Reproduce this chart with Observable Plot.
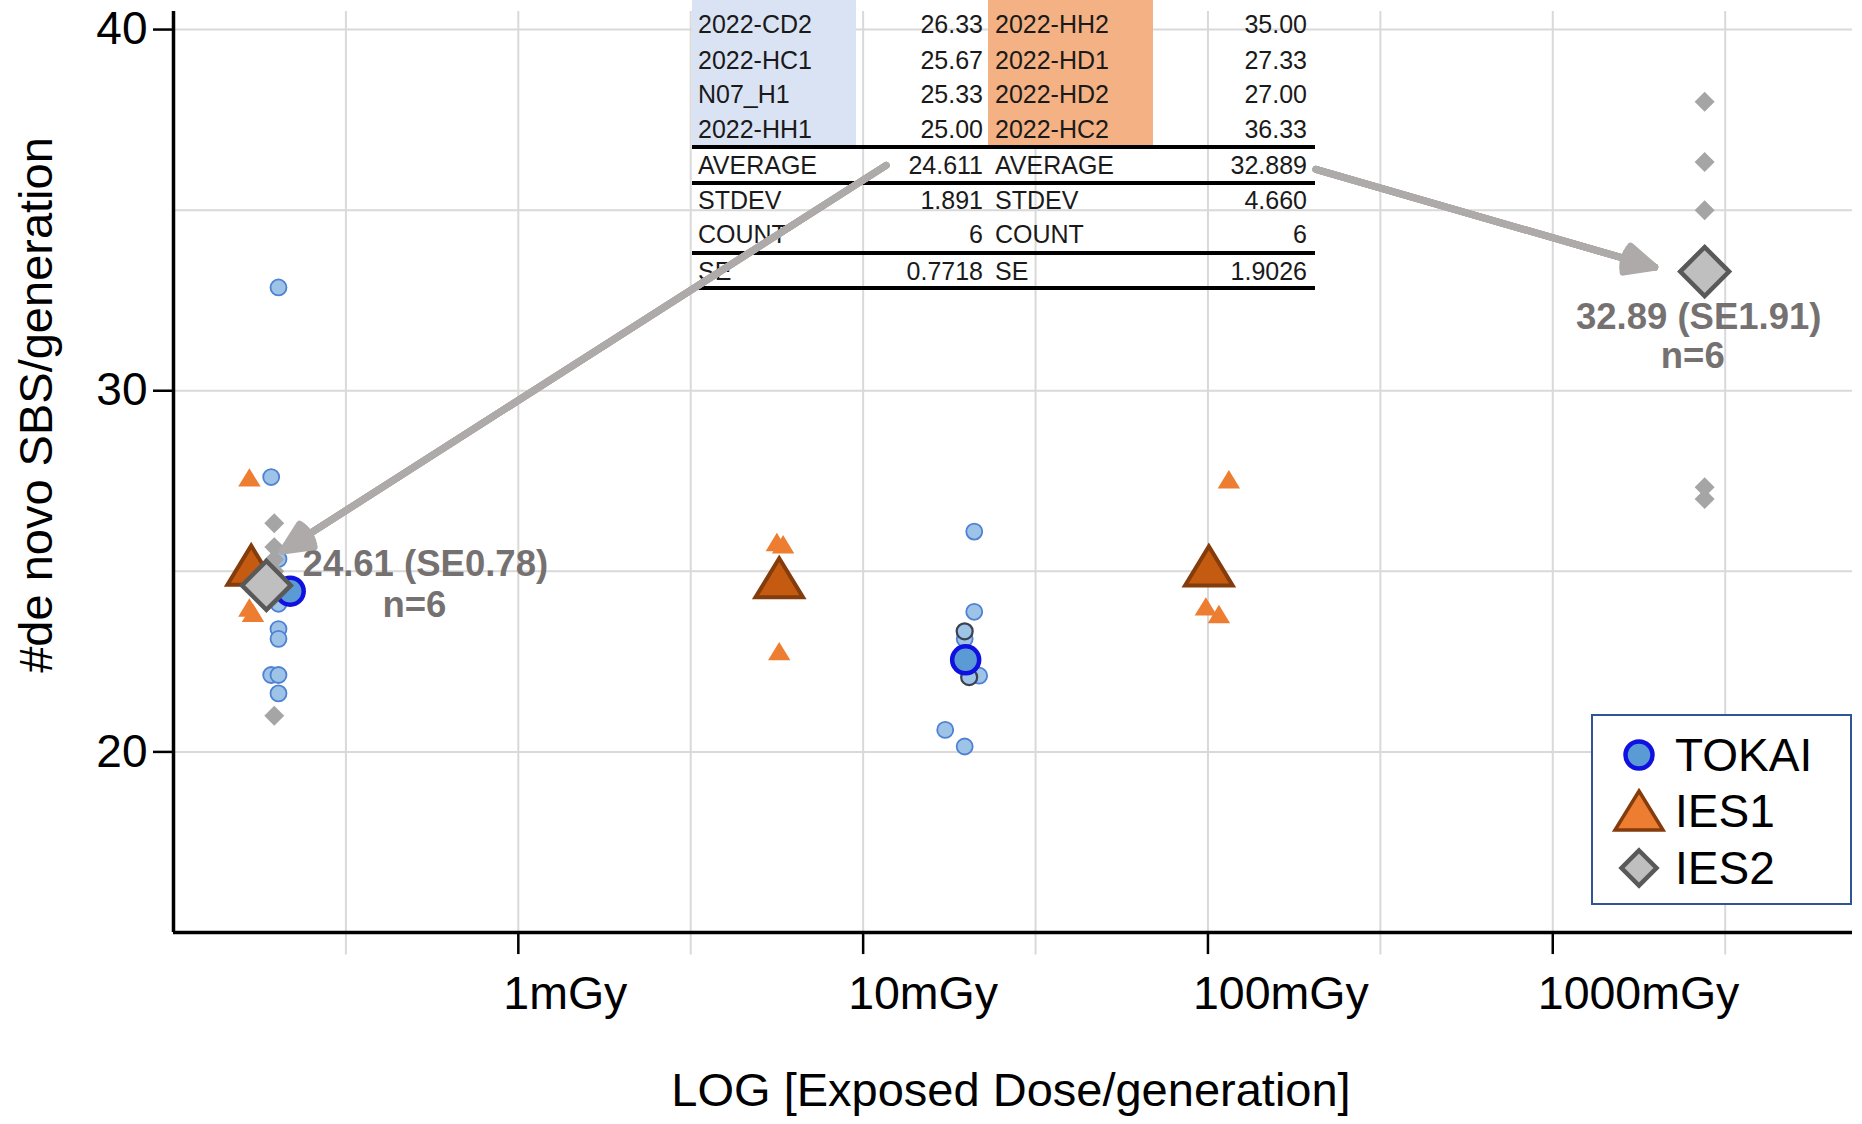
<!DOCTYPE html>
<html>
<head>
<meta charset="utf-8">
<title>#de novo SBS/generation vs exposed dose</title>
<script src="https://cdn.jsdelivr.net/npm/d3@7"></script>
<script src="https://cdn.jsdelivr.net/npm/@observablehq/plot@0.6"></script>
<style>
  html, body { margin: 0; padding: 0; background: #fff; overflow: hidden; }
  #wrap { position: relative; width: 1862px; height: 1124px; overflow: hidden;
          font-family: "Liberation Sans", Arial, Helvetica, sans-serif; }
  #wrap > svg { position: absolute; left: 0; top: 0; }
  #sheet { position: absolute; left: 0; top: 0; width: 1862px; height: 300px; }
  #sheet div { position: absolute; white-space: nowrap; color: #1a1a1a; font-size: 25px; }
  #legend { position: absolute; left: 1591px; top: 714px; width: 261px; height: 191px;
            box-sizing: border-box; border: 2px solid #2f5597; background: #fff; }
  #legend svg { position: absolute; left: 0; top: 0; }
</style>
</head>
<body>
<div id="wrap"></div>
<script>
// ---------------- data ----------------
// TOKAI individual lines
const tokaiDose  = [0.2016, 0.192, 0.2016, 0.2016, 0.2016, 0.2016, 0.192, 0.2016, 0.2016,
                    21.0, 21.0, 19.7, 21.7, 17.3, 19.7];
const tokaiValue = [32.86, 27.61, 25.34, 24.10, 23.40, 23.13, 22.13, 22.13, 21.62,
                    26.10, 23.88, 23.13, 22.11, 20.61, 20.15];
// TOKAI lines drawn with a dark outline
const tokaiOutlinedDose  = [19.7, 20.3];
const tokaiOutlinedValue = [23.34, 22.07];
// TOKAI group means
const tokaiMeanDose  = [0.218, 19.83];
const tokaiMeanValue = [24.45, 22.55];

// IES1 individual lines
const ies1Dose  = [0.166, 0.166, 0.170, 5.62, 5.86, 5.71, 115, 98.6, 107.6];
const ies1Value = [27.6, 24.0, 23.85, 25.81, 25.75, 22.79, 27.55, 24.03, 23.82];
// IES1 group means
const ies1MeanDose  = [0.168, 5.71, 100.6];
const ies1MeanValue = [25.17, 24.82, 25.15];

// IES2 individual lines
const ies2Dose  = [0.196, 0.196, 0.196, 0.196, 0.196, 0.196, 2757, 2757, 2757, 2757, 2757, 2757];
const ies2Value = [26.33, 25.67, 25.33, 25.00, 24.33, 21.00, 38.00, 36.33, 35.00, 33.67, 27.33, 27.00];
// IES2 group means
const ies2MeanDose  = [0.186, 2757];
const ies2MeanValue = [24.61, 33.3];

// mean annotations
const meanLabelText  = ["24.61 (SE0.78)", "32.89 (SE1.91)"];
const meanLabelDose  = [0.5375, 2650];
const meanLabelValue = [25.2, 32.04];
const nLabelText  = ["n=6", "n=6"];
const nLabelDose  = [0.4995, 2546];
const nLabelValue = [24.07, 30.94];

// arrows from the spreadsheet averages to the plotted means
const arrowFromDose  = [11.66, 205.6];
const arrowFromValue = [36.24, 36.13];
const arrowToDose    = [0.207, 1975];
const arrowToValue   = [25.56, 33.42];

// axes
const xTickValues = [1, 10, 100, 1000];
const xTickLabels = ["1mGy", "10mGy", "100mGy", "1000mGy"];
const yTickValues = [20, 30, 40];
const yGridValues = [20, 25, 30, 35, 40];
const xTitle = "LOG [Exposed Dose/generation]";
const yTitle = "#de novo SBS/generation";

// legend
const legendLabels = ["TOKAI", "IES1", "IES2"];

// spreadsheet excerpt
const sheetLeftNames   = ["2022-CD2", "2022-HC1", "N07_H1", "2022-HH1"];
const sheetLeftValues  = ["26.33", "25.67", "25.33", "25.00"];
const sheetRightNames  = ["2022-HH2", "2022-HD1", "2022-HD2", "2022-HC2"];
const sheetRightValues = ["35.00", "27.33", "27.00", "36.33"];
const statNames      = ["AVERAGE", "STDEV", "COUNT", "SE"];
const statLeftValues = ["24.611", "1.891", "6", "0.7718"];
const statRightValues = ["32.889", "4.660", "6", "1.9026"];

// ---------------- build tables for Plot ----------------
const pts = (dx, vy) => dx.map((dose, i) => ({dose, value: vy[i]}));
const tokai = pts(tokaiDose, tokaiValue);
const tokaiOutlined = pts(tokaiOutlinedDose, tokaiOutlinedValue);
const tokaiMean = pts(tokaiMeanDose, tokaiMeanValue);
const ies1 = pts(ies1Dose, ies1Value);
const ies1Mean = pts(ies1MeanDose, ies1MeanValue);
const ies2 = pts(ies2Dose, ies2Value);
const ies2Mean = pts(ies2MeanDose, ies2MeanValue);
const meanLabels = meanLabelText.map((t, i) => ({t, dose: meanLabelDose[i], value: meanLabelValue[i]}));
const nLabels = nLabelText.map((t, i) => ({t, dose: nLabelDose[i], value: nLabelValue[i]}));
const arrows = arrowFromDose.map((d, i) => ({
  x1: d, y1: arrowFromValue[i], x2: arrowToDose[i], y2: arrowToValue[i]
}));

// triangle centred on its bounding box (spreadsheet-style marker)
const boxTriangle = {
  draw(ctx, size) {
    const r = Math.sqrt(size / Math.PI);
    const w = 2.8 * r, h = 2.3 * r;
    ctx.moveTo(0, -h / 2);
    ctx.lineTo(w / 2, h / 2);
    ctx.lineTo(-w / 2, h / 2);
    ctx.closePath();
  }
};

const xDomain = [0.1, 7400];
const yDomain = [15, 40.5];
const xGridValues = d3.range(-1, 8).map(k => Math.pow(10, k / 2));
const frame = {
  width: 1862, height: 1124,
  marginLeft: 173, marginRight: 10, marginTop: 11, marginBottom: 192
};
const font = "'Liberation Sans', Arial, Helvetica, sans-serif";

const main = Plot.plot({
  ...frame,
  x: {type: "log", domain: xDomain},
  y: {domain: yDomain},
  style: {fontFamily: font, fontSize: "46px", color: "black", background: "white", overflow: "visible"},
  marks: [
    Plot.ruleY(yGridValues, {x1: xDomain[0], x2: xDomain[1], stroke: "#d9d9d9", strokeWidth: 2}),
    Plot.ruleX(xGridValues, {y1: 14.38, y2: yDomain[1], stroke: "#d9d9d9", strokeWidth: 2}),
    Plot.axisY({ticks: yTickValues, tickSize: 20, tickPadding: 6, fontSize: 46, label: null,
                strokeWidth: 2.5, tickFormat: d => String(d)}),
    Plot.axisX({ticks: xTickValues, tickSize: 22, tickFormat: () => "", label: null, strokeWidth: 2.5}),
    Plot.text(xTickValues, {x: d => d, text: (d, i) => xTickLabels[i], frameAnchor: "bottom",
                            textAnchor: "start", lineAnchor: "middle", dx: -15, dy: 62, fontSize: 46.5}),
    Plot.ruleX([xDomain[0]], {y1: yDomain[0], y2: yDomain[1], stroke: "black", strokeWidth: 3.5}),
    Plot.ruleY([yDomain[0]], {x1: xDomain[0], x2: xDomain[1], stroke: "black", strokeWidth: 3.5}),
    Plot.text([yTitle], {text: d => d, frameAnchor: "left", textAnchor: "middle", lineAnchor: "middle",
                         rotate: -90, dx: -137, dy: -67, fontSize: 47}),
    Plot.text([xTitle], {text: d => d, frameAnchor: "bottom", textAnchor: "middle", lineAnchor: "middle",
                         dx: -2, dy: 158, fontSize: 47}),

    // individual lines
    Plot.dot(tokai, {x: "dose", y: "value", r: 8, fill: "#9dc3e6", stroke: "#4f81d4", strokeWidth: 1.8}),
    Plot.dot(tokaiOutlined, {x: "dose", y: "value", r: 8, fill: "#9dc3e6", stroke: "#3a4150", strokeWidth: 2.2}),
    Plot.dot(ies1, {x: "dose", y: "value", r: 8, symbol: boxTriangle, fill: "#ed7d31"}),
    Plot.dot(ies2, {x: "dose", y: "value", r: 9, symbol: "diamond2", fill: "#a5a5a5"}),

    // group means
    Plot.dot(tokaiMean, {x: "dose", y: "value", r: 13.5, fill: "#5b9bd5", stroke: "#1010e0", strokeWidth: 4.5}),
    Plot.dot(ies1Mean, {x: "dose", y: "value", r: 17, symbol: boxTriangle, fill: "#c55a11",
                        stroke: "#843c0c", strokeWidth: 4}),
    Plot.dot(ies2Mean, {x: "dose", y: "value", r: 22, symbol: "diamond2", fill: "#bfbfbf",
                        stroke: "#595959", strokeWidth: 4.5}),

    // annotations
    Plot.text(meanLabels, {x: "dose", y: "value", text: "t", fontSize: 36.5, fontWeight: "bold", fill: "#767171"}),
    Plot.text(nLabels, {x: "dose", y: "value", text: "t", fontSize: 36.5, fontWeight: "bold", fill: "#767171"})
  ]
});

const wrap = document.getElementById("wrap");
wrap.appendChild(main);

// ---------------- spreadsheet excerpt (HTML, transparent background) ----------------
const sheet = document.createElement("div");
sheet.id = "sheet";
wrap.appendChild(sheet);
function box(style, text) {
  const el = document.createElement("div");
  Object.assign(el.style, style);
  if (text !== undefined) el.textContent = text;
  sheet.appendChild(el);
  return el;
}
const tLeft = 692, tRight = 1315;
box({left: tLeft + "px", top: "0px", width: "164px", height: "145px", background: "#dae3f3"});
box({left: "988px", top: "0px", width: "165px", height: "145px", background: "#f4b183"});
const rowH = 34;
function cell(text, x, cy, align) {
  const st = {top: (cy - rowH / 2) + "px", height: rowH + "px", lineHeight: rowH + "px"};
  if (align === "right") { st.left = (x - 200) + "px"; st.width = "200px"; st.textAlign = "right"; }
  else { st.left = x + "px"; }
  box(st, text);
}
const dataRowY = [24, 59.5, 94, 128.5];
sheetLeftNames.forEach((t, i) => cell(t, 698, dataRowY[i]));
sheetLeftValues.forEach((t, i) => cell(t, 983, dataRowY[i], "right"));
sheetRightNames.forEach((t, i) => cell(t, 995, dataRowY[i]));
sheetRightValues.forEach((t, i) => cell(t, 1307, dataRowY[i], "right"));
const statRowY = [165, 199.5, 234, 270.5];
statNames.forEach((t, i) => { cell(t, 698, statRowY[i]); cell(t, 995, statRowY[i]); });
statLeftValues.forEach((t, i) => cell(t, 983, statRowY[i], "right"));
statRightValues.forEach((t, i) => cell(t, 1307, statRowY[i], "right"));
[145, 181, 251, 286].forEach(y =>
  box({left: tLeft + "px", top: y + "px", width: (tRight - tLeft) + "px", height: "3.5px", background: "#000"}));

// ---------------- arrows on top of the spreadsheet ----------------
const wing = 32, sw = 7;
const overlay = Plot.plot({
  ...frame,
  x: {type: "log", domain: xDomain, axis: null},
  y: {domain: yDomain, axis: null},
  style: {background: "transparent", overflow: "visible"},
  marks: [50, 38, 26, 15, 6].map(a => Plot.arrow(arrows, {
    x1: "x1", y1: "y1", x2: "x2", y2: "y2", stroke: "#aeaaaa", strokeWidth: sw,
    headAngle: a, headLength: wing * 1.5 / sw, strokeLinejoin: "miter"
  }))
});
overlay.style.pointerEvents = "none";
wrap.appendChild(overlay);

// ---------------- legend ----------------
const legend = document.createElement("div");
legend.id = "legend";
wrap.appendChild(legend);
const lsvg = d3.select(legend).append("svg").attr("width", 257).attr("height", 187);
const rowsY = [39, 95, 152];
const sx = 46;
lsvg.append("circle").attr("cx", sx).attr("cy", rowsY[0]).attr("r", 13.5)
  .attr("fill", "#5b9bd5").attr("stroke", "#1010e0").attr("stroke-width", 4.5);
lsvg.append("path")
  .attr("d", `M${sx},${rowsY[1] - 20}L${sx + 24},${rowsY[1] + 19}L${sx - 24},${rowsY[1] + 19}Z`)
  .attr("fill", "#ed7d31").attr("stroke", "#843c0c").attr("stroke-width", 3.5);
lsvg.append("path")
  .attr("d", `M${sx},${rowsY[2] - 17.5}L${sx + 17.5},${rowsY[2]}L${sx},${rowsY[2] + 17.5}L${sx - 17.5},${rowsY[2]}Z`)
  .attr("fill", "#bfbfbf").attr("stroke", "#595959").attr("stroke-width", 4.5);
lsvg.selectAll("text.lab").data(legendLabels).join("text")
  .attr("class", "lab")
  .attr("x", 82).attr("y", (d, i) => rowsY[i])
  .attr("dy", "0.35em")
  .attr("font-family", font).attr("font-size", 46).attr("fill", "#000")
  .text(d => d);
</script>
</body>
</html>
